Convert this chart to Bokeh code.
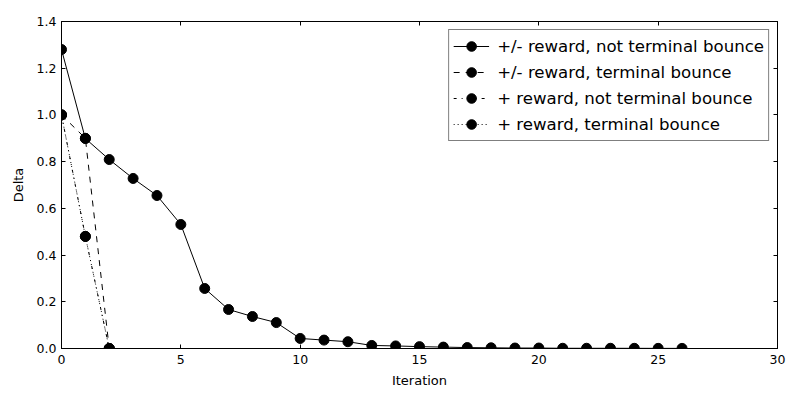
from bokeh.plotting import figure
from bokeh.models import LinearAxis, FixedTicker, NumeralTickFormatter, Range1d, Legend, LegendItem, CustomJSTickFormatter
from bokeh.embed import file_html
from bokeh.resources import INLINE

iters1 = list(range(27))
delta1 = [1.28, 0.899, 0.809, 0.728, 0.655, 0.531, 0.257, 0.167, 0.137, 0.111,
          0.043, 0.036, 0.029, 0.013, 0.011, 0.008, 0.006, 0.004, 0.003, 0.002,
          0.002, 0.001, 0.001, 0.001, 0.0008, 0.0006, 0.0005]
iters2 = [0, 1, 2]
delta2 = [1.0, 0.9, 0.0]
iters3 = [0, 1, 2]
delta3 = [1.0, 0.48, 0.0]
iters4 = [0, 1, 2]
delta4 = [1.0, 0.48, 0.0]

labels = ["+/- reward, not terminal bounce", "+/- reward, terminal bounce",
          "+ reward, not terminal bounce", "+ reward, terminal bounce"]
x_ticks = [0, 5, 10, 15, 20, 25, 30]
y_ticks = [0.0, 0.2, 0.4, 0.6, 0.8, 1.0, 1.2, 1.4]

FONT = "DejaVu Sans"

p = figure(width=800, height=400, output_backend="svg", toolbar_location=None,
           x_range=Range1d(0, 30), y_range=Range1d(0, 1.4),
           min_border_left=61, min_border_right=23, min_border_top=21, min_border_bottom=52)
p.background_fill_color = "white"
p.border_fill_color = "white"
p.outline_line_color = "black"
p.outline_line_width = 1
p.grid.visible = False

for ax in (p.xaxis[0], p.yaxis[0]):
    ax.major_tick_in = 4
    ax.major_tick_out = 0
    ax.minor_tick_line_color = None
    ax.axis_line_color = "black"
    ax.major_tick_line_color = "black"
    ax.major_label_text_font = FONT
    ax.major_label_text_font_size = "12.5px"
    ax.major_label_text_color = "black"
    ax.axis_label_text_font = FONT
    ax.axis_label_text_font_size = "13px"
    ax.axis_label_text_font_style = "normal"
    ax.axis_label_text_color = "black"

p.xaxis.ticker = FixedTicker(ticks=x_ticks)
p.yaxis.ticker = FixedTicker(ticks=y_ticks)
p.yaxis.formatter = NumeralTickFormatter(format="0.0")
p.xaxis.axis_label = "Iteration"
p.yaxis.axis_label = "Delta"
p.xaxis.major_label_standoff = 6
p.yaxis.major_label_standoff = 5
p.xaxis.axis_label_standoff = 6
p.yaxis.axis_label_standoff = 8

blank = CustomJSTickFormatter(code="return ''")
top = LinearAxis(ticker=FixedTicker(ticks=x_ticks), formatter=blank,
                 major_tick_in=4, major_tick_out=0, minor_tick_line_color=None,
                 major_label_standoff=0)
right = LinearAxis(ticker=FixedTicker(ticks=y_ticks), formatter=blank,
                   major_tick_in=4, major_tick_out=0, minor_tick_line_color=None,
                   major_label_standoff=0)
p.add_layout(top, "above")
p.add_layout(right, "right")

series = [(iters1, delta1, "solid"), (iters2, delta2, "6 6"),
          (iters3, delta3, "3 5 1 5"), (iters4, delta4, "1 3")]
items = []
for (xs, ys, dash), lab in zip(series, labels):
    l = p.line(xs, ys, line_color="black", line_width=1, line_dash=dash)
    s = p.scatter(xs, ys, size=10, fill_color="black", line_color="black")
    items.append(LegendItem(label=lab, renderers=[l, s]))

legend = Legend(items=items, location="top_right")
legend.label_text_font = FONT
legend.label_text_font_size = "16.6px"
legend.label_text_color = "black"
legend.border_line_color = "black"
legend.border_line_width = 1
legend.background_fill_alpha = 1
legend.glyph_width = 36
legend.spacing = 2
legend.padding = 4
legend.margin = 8
legend.label_height = 24
legend.glyph_height = 24
legend.label_standoff = 8
p.add_layout(legend)

open("out.html", "w").write(file_html(p, INLINE))
